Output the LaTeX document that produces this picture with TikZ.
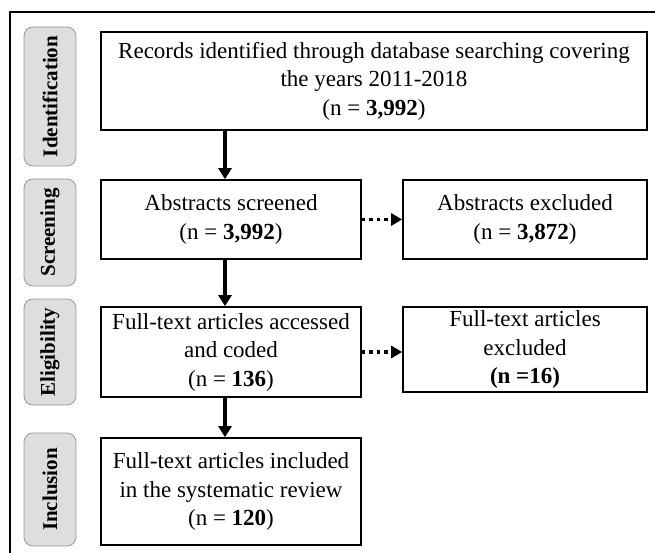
\documentclass[tikz,border=0pt]{standalone}
\usepackage{fontspec}
\setmainfont{Liberation Serif}
\usetikzlibrary{arrows.meta}
\begin{document}
\begin{tikzpicture}[x=1pt,y=-1pt,
  box/.style={draw=black, line width=1.7pt, fill=white, align=center, inner sep=2pt,
    font=\fontsize{23}{28.5}\selectfont},
  phase/.style={draw=black!40, fill=black!13, rounded corners=9pt, line width=0.8pt,
    rotate=90, minimum height=52pt, inner sep=0pt, font=\fontsize{21}{22}\selectfont\bfseries},
  arr/.style={line width=4pt, -{Triangle[length=11pt,width=13pt]}},
  darr/.style={line width=3.6pt, dash pattern=on 3.5pt off 4pt, -{Triangle[length=11pt,width=12pt]}}
]
\useasboundingbox (0,0) rectangle (655,553);
\fill[white] (0,0) rectangle (655,553);
\draw[line width=1.2pt] (10,553) -- (10,12) -- (655,12);

% phase labels
\node[phase, minimum width=139pt] (p1) at (50,96.5) {Identification};
\node[phase, minimum width=107pt] (p2) at (50,232.5) {Screening};
\node[phase, minimum width=106pt] (p3) at (50,352) {Eligibility};
\node[phase, minimum width=113pt] (p4) at (50,489.5) {Inclusion};

% boxes
\node[box, minimum width=546pt, minimum height=98pt] (b1) at (374,81)
  {Records identified through database searching covering\\ the years 2011-2018\\ (n = \textbf{3,992})};
\node[box, minimum width=260pt, minimum height=79pt] (b2) at (231,219.5)
  {Abstracts screened\\ (n = \textbf{3,992})};
\node[box, minimum width=244pt, minimum height=79pt] (b3) at (525,219.5)
  {Abstracts excluded\\ (n = \textbf{3,872})};
\node[box, minimum width=260pt, minimum height=90pt] (b4) at (231,352)
  {Full-text articles accessed\\ and coded\\ (n = \textbf{136})};
\node[box, minimum width=244pt, minimum height=85pt] (b5) at (525,349.5)
  {Full-text articles\\ excluded\\ \textbf{(n =16)}};
\node[box, minimum width=260pt, minimum height=107pt] (b6) at (231,491.5)
  {Full-text articles included\\ in the systematic review\\ (n = \textbf{120})};

\coordinate (ax) at (225,0);
\draw[arr] (b1.south -| ax) -- (b2.north -| ax);
\draw[arr] (b2.south -| ax) -- (b4.north -| ax);
\draw[arr] (b4.south -| ax) -- (b6.north -| ax);
\draw[darr] (b2.east) -- (b3.west);
\draw[darr] (b4.east) -- (b4.east -| b5.west);
\end{tikzpicture}
\end{document}
